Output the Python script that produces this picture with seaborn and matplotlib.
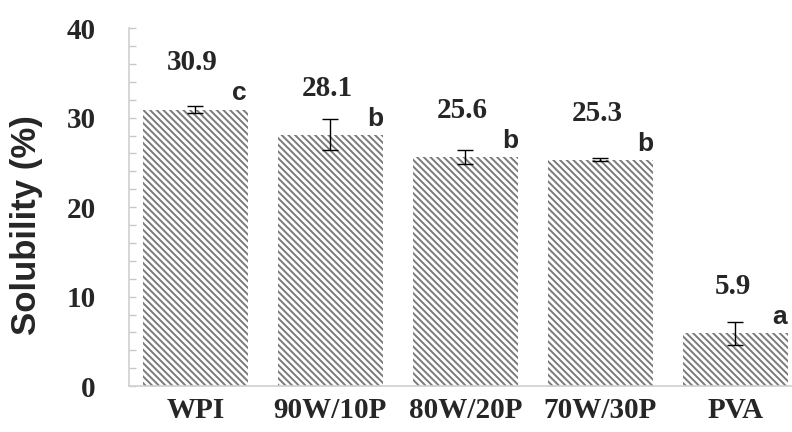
import matplotlib
matplotlib.use("Agg")
import matplotlib.pyplot as plt
import seaborn as sns
import numpy as np

categories = ["WPI", "90W/10P", "80W/20P", "70W/30P", "PVA"]
solubility = [30.9, 28.1, 25.6, 25.3, 5.9]
errors = [0.4, 1.7, 0.8, 0.2, 1.3]
letters = ["c", "b", "b", "b", "a"]
value_labels = ["30.9", "28.1", "25.6", "25.3", "5.9"]

sns.set_style("white")
plt.rcParams["hatch.linewidth"] = 1.4
plt.rcParams["hatch.color"] = "#7a7a7a"

fig = plt.figure(figsize=(7.92, 4.32), dpi=100)
ax = fig.add_axes([0.163, 0.106, 0.837, 0.829])

sns.barplot(x=categories, y=solubility, color="white", width=0.78,
            edgecolor="#7a7a7a", linewidth=0, ax=ax, errorbar=None)
for p in ax.patches:
    p.set_hatch("\\\\\\\\\\")
    p.set_edgecolor("#7a7a7a")
    p.set_linewidth(0)

x = np.arange(len(categories))
ax.errorbar(x, solubility, yerr=errors, fmt="none", ecolor="black",
            elinewidth=1.0, capsize=6, capthick=1.0)

serif = "Liberation Serif"
sans = "Liberation Sans"
for i in range(len(categories)):
    ax.text(x[i] - 0.02, solubility[i] + 5.2, value_labels[i], ha="center",
            va="center", fontsize=21, fontweight="bold", family=serif)
    ax.text(x[i] + 0.33, solubility[i] + 1.8, letters[i], ha="center",
            va="center", fontsize=19, fontweight="bold", family=sans)

ax.set_ylim(0, 40)
ax.set_xlim(-0.49, 4.42)
ax.set_yticks([0, 10, 20, 30, 40])
ax.set_yticks(np.arange(0, 41, 2), minor=True)
ax.tick_params(axis="y", which="both", direction="in", length=5, color="#c8c8c8",
               left=True, width=1)
ax.tick_params(axis="x", length=0, pad=8)
for lab in ax.get_yticklabels() + ax.get_xticklabels():
    lab.set_fontfamily(serif)
    lab.set_fontweight("bold")
    lab.set_fontsize(21)
ax.tick_params(axis="y", pad=24)

for s in ["top", "right"]:
    ax.spines[s].set_visible(False)
ax.spines["left"].set_color("#d0d0d0")
ax.spines["bottom"].set_color("#d0d0d0")
ax.spines["left"].set_linewidth(1.2)
ax.spines["bottom"].set_linewidth(1.2)

ax.set_ylabel("Solubility (%)", fontsize=25, fontweight="bold", family=sans)
ax.yaxis.set_label_coords(-0.13, 0.45)
ax.set_xlabel("")

fig.savefig("out.png", dpi=100)
